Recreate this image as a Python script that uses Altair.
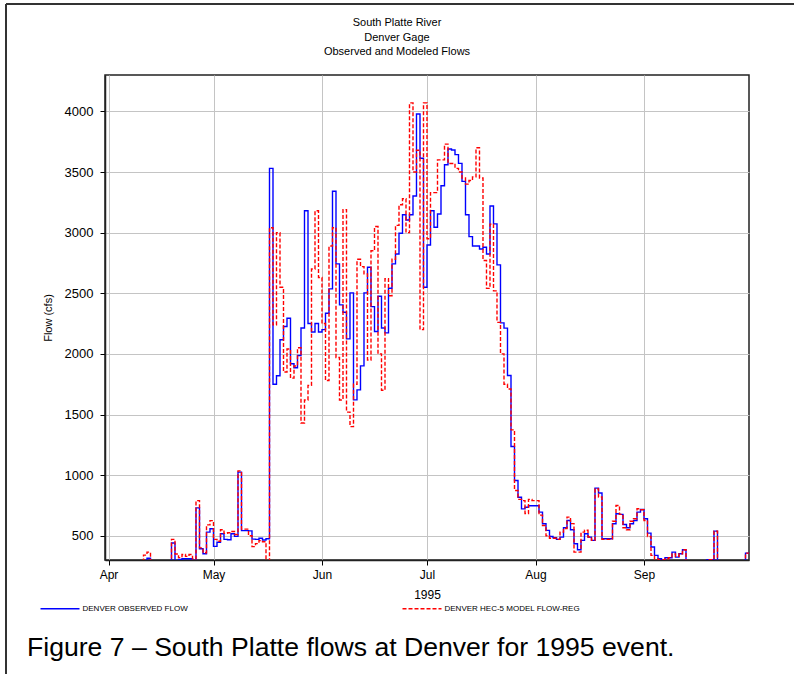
import altair as alt
import pandas as pd

series_names = ["DENVER OBSERVED FLOW", "DENVER HEC-5 MODEL FLOW-REG"]
series_colors = ["#0000ff", "#ff0000"]
start_date = "1995-03-31"   # first daily value (values below 300 cfs fall under the axis)

observed = [
    250, 250, 250, 250, 250, 250, 250, 250, 250, 250,
    250, 280, 315, 250, 250, 250, 250, 250, 250, 440,
    280, 305, 310, 310, 310, 280, 730, 393, 352, 530,
    558, 412, 447, 516, 470, 467, 516, 495, 1025, 542,
    542, 540, 472, 470, 480, 465, 475, 3530, 1750, 1820,
    2116, 2226, 2294, 1918, 1885, 1986, 2214, 3181, 2250, 2180,
    2250, 2180, 2200, 2335, 2536, 3341, 2742, 2404, 2343, 2124,
    2503, 1621, 1703, 1901, 2503, 2714, 2390, 2184, 2475, 2214,
    2173, 2541, 2742, 2824, 2995, 3148, 3104, 3148, 3302, 3978,
    3613, 2550, 2898, 3181, 3044, 3154, 3387, 3560, 3690, 3681,
    3643, 3571, 3423, 3148, 2967, 2890, 2890, 2865, 2879, 2824,
    3220, 3072, 2734, 2256, 2212, 1822, 1236, 956, 818, 722,
    735, 747, 747, 747, 695, 599, 544, 494, 484, 470,
    489, 566, 626, 549, 434, 385, 462, 517, 489, 462,
    893, 852, 475, 475, 475, 599, 681, 676, 593, 566,
    599, 626, 695, 717, 640, 522, 407, 338, 310, 302,
    319, 319, 365, 324, 352, 385, 250, 250, 250, 250,
    250, 250, 303, 303, 538, 250, 250, 250, 250, 250,
    250, 250, 250, 357,
]

modeled = [
    250, 250, 250, 250, 250, 250, 250, 250, 250, 250,
    250, 340, 365, 250, 250, 250, 250, 250, 250, 470,
    350, 320, 345, 330, 345, 310, 790, 400, 360, 590,
    625, 470, 455, 550, 520, 525, 535, 510, 1035, 555,
    555, 500, 410, 435, 460, 450, 250, 3040, 2240, 3000,
    2550, 1850, 2040, 1800, 1900, 2050, 1430, 1620, 1740, 2700,
    3180, 2630, 2250, 1780, 2890, 3040, 1970, 1620, 3190, 1520,
    1400, 1750, 2780, 2720, 2660, 1950, 2850, 3050, 2000, 1700,
    2620, 2480, 2780, 3060, 3230, 3280, 3000, 4070, 3500, 3680,
    2200, 4070, 2950, 3330, 3330, 3600, 3600, 3730, 3570, 3570,
    3530, 3500, 3450, 3400, 3430, 3460, 3700, 3450, 2770, 2540,
    3070, 2520, 2260, 2000, 1750, 1710, 1373, 873, 800, 790,
    683, 800, 790, 790, 670, 585, 500, 480, 480, 470,
    530, 560, 654, 600, 365, 365, 530, 545, 490, 462,
    887, 819, 470, 470, 470, 620, 750, 676, 566, 550,
    620, 640, 723, 715, 626, 494, 338, 310, 302, 302,
    310, 319, 350, 330, 352, 385, 250, 250, 250, 250,
    250, 250, 303, 303, 538, 250, 250, 250, 250, 250,
    250, 250, 250, 357,
]

month_ticks = [4, 5, 6, 7, 8, 9]
y_ticks = [500, 1000, 1500, 2000, 2500, 3000, 3500, 4000]
title_lines = ["South Platte River", "Denver Gage", "Observed and Modeled  Flows"]
x_title = "1995"
y_title = "Flow (cfs)"
caption = "Figure 7 \u2013 South Platte flows at Denver for 1995 event."

FONT = "Liberation Sans, Arial, sans-serif"

# build the long table (step-after: repeat last value to close the final day)
dates = pd.date_range(start_date, periods=len(observed) + 1, freq="D")
rows = []
for name, vals in zip(series_names, [observed, modeled]):
    ext = vals + [vals[-1]]
    for d, v in zip(dates, ext):
        rows.append({"date": d, "flow": v, "series": name})
df = pd.DataFrame(rows)

W, H = 644, 485

x_enc = alt.X(
    "date:T",
    scale=alt.Scale(domain=[alt.DateTime(year=1995, month=3, date=31),
                            alt.DateTime(year=1995, month=10, date=1)]),
    axis=alt.Axis(
        values=[alt.DateTime(year=1995, month=m, date=1) for m in month_ticks],
        format="%b", title=x_title, labelFontSize=12, titleFontSize=12,
        titleFontWeight="normal", titleY=34, titleBaseline="middle",
        labelPadding=4, tickSize=5, labelAngle=0,
    ),
)
y_enc = alt.Y(
    "flow:Q",
    scale=alt.Scale(domain=[300, 4300], nice=False, zero=False),
    axis=alt.Axis(
        values=y_ticks, format="d", title=y_title, labelFontSize=13, titleFontSize=11,
        titleFontWeight="normal", titleX=-57, titleY=H / 2,
        titleAlign="center", titleBaseline="middle", labelPadding=7, tickSize=5,
    ),
)

legend_kw = dict(
    title=None, orient="none", legendX=-65.5, legendY=513,
    direction="horizontal", symbolType="stroke", symbolSize=1521,
    symbolStrokeWidth=1.3, labelFontSize=8, labelFont=FONT,
    labelOffset=2, columnPadding=211, labelColor="#000000",
)

lines = alt.Chart(df).mark_line(interpolate="step-after", clip=True, strokeWidth=1.4).encode(
    x=x_enc,
    y=y_enc,
    color=alt.Color(
        "series:N",
        scale=alt.Scale(domain=series_names, range=series_colors),
        legend=alt.Legend(**legend_kw),
    ),
    strokeDash=alt.StrokeDash(
        "series:N",
        scale=alt.Scale(domain=series_names, range=[[1, 0], [4, 2]]),
        legend=alt.Legend(**legend_kw),
    ),
    order=alt.Order("series:N", sort="descending"),
)

title_df = pd.DataFrame({"t": ["\n".join(title_lines)]})
title_txt = alt.Chart(title_df).mark_text(
    align="center", baseline="top", fontSize=11, font=FONT, color="#000000",
    lineBreak="\n", lineHeight=14.5,
).encode(text="t:N", x=alt.value(292), y=alt.value(-58))

cap_df = pd.DataFrame({"t": [caption]})
cap = alt.Chart(cap_df).mark_text(
    align="left", baseline="alphabetic", fontSize=26.6, font=FONT, color="#000000"
).encode(text="t:N", x=alt.value(-78), y=alt.value(581))

frame_df = pd.DataFrame({"k": [0]})
frame_top = alt.Chart(frame_df).mark_rule(color="#333333", strokeWidth=2).encode(
    x=alt.value(-99), x2=alt.value(689), y=alt.value(-71)
)
frame_left = alt.Chart(frame_df).mark_rule(color="#333333", strokeWidth=2).encode(
    x=alt.value(-99), y=alt.value(-71), y2=alt.value(600)
)

chart = alt.layer(lines, title_txt, cap, frame_top, frame_left).properties(
    width=W, height=H,
    padding={"left": 105, "top": 75, "right": 45, "bottom": 114},
    autosize=alt.AutoSizeParams(type="none"),
    background="#ffffff",
).configure_view(
    stroke="#222222", strokeWidth=1.5
).configure_axis(
    labelFont=FONT, titleFont=FONT, labelColor="#000000", titleColor="#000000",
    gridColor="#c4c4c4", gridWidth=1, domainColor="#222222", domainWidth=1.5,
    tickColor="#000000", grid=True,
)

chart.save("out.html", embed_options={"renderer": "svg", "actions": False})
